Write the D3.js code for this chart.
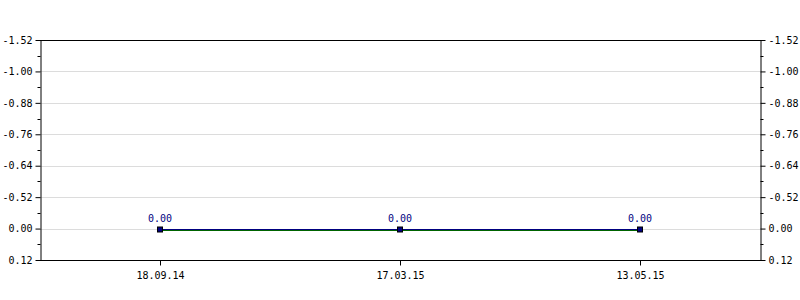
<!DOCTYPE html>
<html>
<head>
<meta charset="utf-8">
<script src="https://cdn.jsdelivr.net/npm/d3@7"></script>
<style>
  html, body { margin: 0; padding: 0; background: #fff; }
  svg { display: block; }
  text { font-family: "DejaVu Sans Mono", monospace; font-size: 10px; }
</style>
</head>
<body>
<svg width="800" height="300"></svg>
<script>
const dates = ["18.09.14", "17.03.15", "13.05.15"];
const valuesBlue = [0, 0, 0];
const valuesGreen = [0, 0, 0];
// tick labels bottom to top, as printed on the axis
const yTickLabels = ["0.12", "0.00", "-0.52", "-0.64", "-0.76", "-0.88", "-1.00", "-1.52"];

const root = d3.select("svg");
const width = +root.attr("width");
const height = +root.attr("height");
const margin = { top: 40, right: 40, bottom: 40, left: 40 };
const innerW = width - margin.left - margin.right;
const innerH = height - margin.top - margin.bottom;

const fmt = d3.format(".2f");

const x = d3.scalePoint().domain(dates).range([0, innerW]).padding(0.5);
const y = d3.scalePoint().domain(yTickLabels).range([innerH, 0]);

const g = root.append("g").attr("transform", `translate(${margin.left},${margin.top})`);

// grid lines
g.append("g")
  .selectAll("line")
  .data(yTickLabels.slice(1, -1))
  .join("line")
  .attr("x1", 0)
  .attr("x2", innerW)
  .attr("y1", (d) => Math.round(y(d)) + 0.5)
  .attr("y2", (d) => Math.round(y(d)) + 0.5)
  .attr("stroke", "#dcdcdc");

// minor ticks at midpoints
const minors = d3.pairs(yTickLabels).map(([a, b]) => (y(a) + y(b)) / 2);

const styleAxis = (sel) => {
  sel.select(".domain").attr("stroke", "#000");
  sel.selectAll(".tick line").attr("stroke", "#000");
  sel.selectAll(".tick text").attr("fill", "#000").attr("font-family", null).attr("font-size", null);
};

const leftAxis = g.append("g")
  .call(d3.axisLeft(y).tickSize(5).tickSizeOuter(0).tickPadding(3))
  .call(styleAxis);
leftAxis.attr("transform", "translate(0.5,0)");

const rightAxis = g.append("g")
  .attr("transform", `translate(${innerW + 0.5},0)`)
  .call(d3.axisRight(y).tickSize(5).tickSizeOuter(0).tickPadding(3))
  .call(styleAxis);

[[leftAxis, -3], [rightAxis, 3]].forEach(([ax, len]) => {
  ax.selectAll(".minor")
    .data(minors)
    .join("line")
    .attr("class", "minor")
    .attr("x1", 0)
    .attr("x2", len)
    .attr("y1", (d) => Math.round(d) + 0.5)
    .attr("y2", (d) => Math.round(d) + 0.5)
    .attr("stroke", "#000");
});

// top border
g.append("line")
  .attr("x1", 0).attr("x2", innerW + 1)
  .attr("y1", 0.5).attr("y2", 0.5)
  .attr("stroke", "#000");

// x axis
g.append("g")
  .attr("transform", `translate(0,${innerH + 0.5})`)
  .call(d3.axisBottom(x).tickSize(5).tickSizeOuter(0).tickPadding(6))
  .call(styleAxis)
  .call((sel) => sel.select(".domain").attr("d", `M0,0H${innerW + 1}`));

const yVal = (v) => Math.round(y(fmt(v))) + 0.5;

// green series
g.append("path")
  .datum(valuesGreen)
  .attr("fill", "none")
  .attr("stroke", "#006400")
  .attr("stroke-width", 2)
  .attr("d", d3.line().x((d, i) => x(dates[i])).y((d) => yVal(d) + 0.5));

// blue series
g.append("path")
  .datum(valuesBlue)
  .attr("fill", "none")
  .attr("stroke", "#000080")
  .attr("stroke-width", 1)
  .attr("d", d3.line().x((d, i) => x(dates[i])).y((d) => yVal(d)));

// markers
g.selectAll(".marker")
  .data(valuesBlue)
  .join("rect")
  .attr("class", "marker")
  .attr("x", (d, i) => x(dates[i]) - 2.5)
  .attr("y", (d) => yVal(d) - 2.5)
  .attr("width", 5)
  .attr("height", 5)
  .attr("fill", "#000080")
  .attr("stroke", "#000")
  .attr("stroke-width", 1);

// value labels
g.selectAll(".vlabel")
  .data(valuesBlue)
  .join("text")
  .attr("class", "vlabel")
  .attr("x", (d, i) => x(dates[i]))
  .attr("y", (d) => yVal(d) - 8)
  .attr("text-anchor", "middle")
  .attr("fill", "#000080")
  .text((d) => fmt(d));
</script>
</body>
</html>
